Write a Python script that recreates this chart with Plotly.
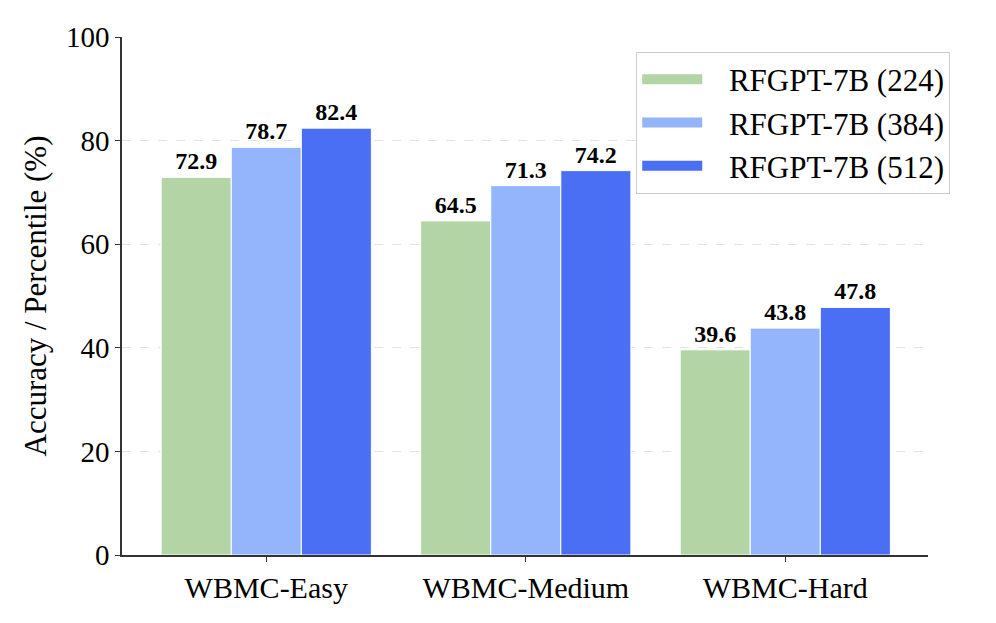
import plotly.graph_objects as go

categories = ["WBMC-Easy", "WBMC-Medium", "WBMC-Hard"]
series_names = ["RFGPT-7B (224)", "RFGPT-7B (384)", "RFGPT-7B (512)"]
vals_224 = [72.9, 64.5, 39.6]
vals_384 = [78.7, 71.3, 43.8]
vals_512 = [82.4, 74.2, 47.8]
colors = ["#b3d4a5", "#94b4fc", "#4a6ff5"]

FONT = "Liberation Serif, Times New Roman, serif"

fig = go.Figure()
for name, vals, col in zip(series_names, [vals_224, vals_384, vals_512], colors):
    fig.add_trace(go.Bar(
        x=categories, y=vals, name=name, legendgroup=name, showlegend=False,
        marker=dict(color=col, line=dict(color="white", width=1)),
        text=[f"{v:.1f}" for v in vals], textposition="outside",
        textfont=dict(family=FONT, size=24, color="black"),
        texttemplate="<b>%{text}</b>", cliponaxis=False,
    ))
# legend entries with wide rectangular swatches
for name, col in zip(series_names, colors):
    fig.add_trace(go.Scatter(
        x=[None], y=[None], mode="lines", name="\u2002\u2009" + name, legendgroup=name,
        line=dict(color=col, width=18), showlegend=True,
    ))

fig.update_layout(
    width=988, height=615,
    margin=dict(l=114, r=68, t=29, b=68),
    paper_bgcolor="white", plot_bgcolor="white",
    barmode="group", bargap=0.19, bargroupgap=0.0,
    font=dict(family=FONT, size=30, color="black"),
    showlegend=True,
    legend=dict(
        x=0.638, y=0.972, xanchor="left", yanchor="top",
        bgcolor="white", bordercolor="#cccccc", borderwidth=1,
        font=dict(family=FONT, size=31), itemwidth=60,
        tracegroupgap=0,
    ),
)
fig.update_xaxes(
    range=[-0.556, 2.55], showline=True, linecolor="#333333", linewidth=1.5,
    ticks="outside", ticklen=5, tickcolor="#333333", tickfont=dict(size=30),
    showgrid=False,
)
fig.update_yaxes(
    range=[0, 100], dtick=20, showline=True, linecolor="#333333", linewidth=1.5,
    ticks="outside", ticklen=5, tickcolor="#333333", tickfont=dict(size=29),
    showgrid=True, gridcolor="#e3e3e3", griddash="dash", gridwidth=1,
    zeroline=False,
    title=dict(text="Accuracy / Percentile (%)", font=dict(size=31), standoff=10),
)

fig.write_html("out.html")
